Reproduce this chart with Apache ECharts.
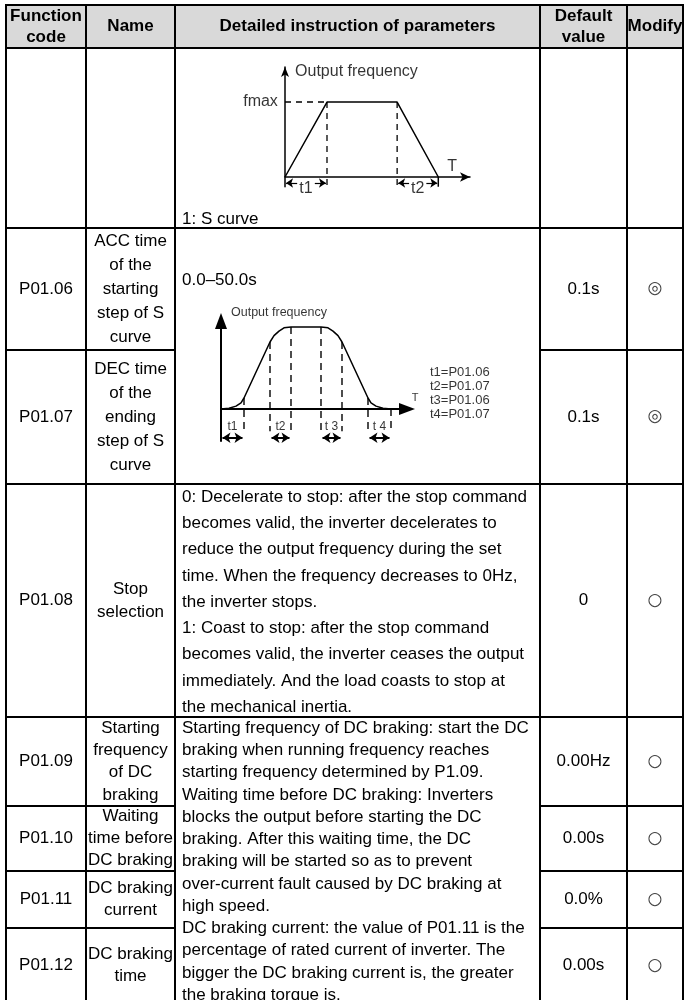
<!DOCTYPE html>
<html><head><meta charset="utf-8">
<script src="https://cdn.jsdelivr.net/npm/echarts@6/dist/echarts.min.js"></script>
<style>html,body{margin:0;padding:0;background:#fff}#c{width:684px;height:1000px}</style>
</head><body><div id="c"></div>
<script>
// ---------------- DATA ----------------
const headers = ['Function\ncode', 'Name', 'Detailed instruction of parameters', 'Default\nvalue', 'Modify'];
const codes = ['', 'P01.06', 'P01.07', 'P01.08', 'P01.09', 'P01.10', 'P01.11', 'P01.12'];
const names = ['', 'ACC time\nof the\nstarting\nstep of S\ncurve', 'DEC time\nof the\nending\nstep of S\ncurve',
  'Stop\nselection', 'Starting\nfrequency\nof DC\nbraking', 'Waiting\ntime before\nDC braking',
  'DC braking\ncurrent', 'DC braking\ntime'];
const defaults = ['', '0.1s', '0.1s', '0', '0.00Hz', '0.00s', '0.0%', '0.00s'];
const modifyMarks = ['', '◎', '◎', '○', '○', '○', '○', '○'];
const detailTexts = [
  '1: S curve',
  '0.0–50.0s',
  ['0: Decelerate to stop: after the stop command',
   'becomes valid, the inverter decelerates to',
   'reduce the output frequency during the set',
   'time. When the frequency decreases to 0Hz,',
   'the inverter stops.',
   '1: Coast to stop: after the stop command',
   'becomes valid, the inverter ceases the output',
   'immediately. And the load coasts to stop at',
   'the mechanical inertia.'].join('\n'),
  ['Starting frequency of DC braking: start the DC',
   'braking when running frequency reaches',
   'starting frequency determined by P1.09.',
   'Waiting time before DC braking: Inverters',
   'blocks the output before starting the DC',
   'braking. After this waiting time, the DC',
   'braking will be started so as to prevent',
   'over-current fault caused by DC braking at',
   'high speed.',
   'DC braking current: the value of P01.11 is the',
   'percentage of rated current of inverter. The',
   'bigger the DC braking current is, the greater',
   'the braking torque is.'].join('\n')
];
const detailRowSpans = [[0, 0], [1, 2], [3, 3], [4, 7]];

// Diagram 1: linear acceleration (time, frequency; fmax = 1)
const linTime = [0, 1, 2.67, 3.65];
const linFreq = [0, 1, 1, 0];
const linTitle = 'Output frequency';
const linMaxLabel = 'fmax';
const timeLabel = 'T';
const linMarks = ['t1', 't2'];

// Diagram 2: S curve (time, frequency; fmax = 1)
const sTime = [0, 0.8, 1.5, 2.0, 2.3, 4.9, 5.3, 5.8, 6.3, 7.0, 10.0, 10.7, 11.2, 11.7, 12.1, 14.7, 15.0, 15.5, 16.2, 17.0];
const sFreq = [0, 0.01, 0.035, 0.075, 0.134, 0.817, 0.895, 0.95, 0.99, 1, 1, 0.99, 0.95, 0.895, 0.817, 0.134, 0.075, 0.035, 0.01, 0];
const sGuideIdx = [4, 5, 9, 10, 14, 15, 19];
const sSpans = [[0, 4], [5, 9], [10, 14], [15, 19]];
const sMarks = ['t1', 't2', 't 3', 't 4'];
const sLegend = ['t1=P01.06', 't2=P01.07', 't3=P01.06', 't4=P01.07'];

// ---------------- LAYOUT / STYLE ----------------
const FONT = '"Liberation Sans", Arial, sans-serif';
const L = {
  colEdges: [6, 86, 175, 540, 627, 683],
  rowEdges: [5, 48, 228, 350, 484, 717, 806, 871, 928, 1003],
  headerFill: '#d9d9d9',
  border: 2,
  fontSize: 17,
  headLH: 21,
  nameLH: [24, 24, 24, 23, 22.25, 22.25, 22.25, 22.25],
  padX: 7,
  detail: [
    {anchor: 'bottom', off: 9, lh: 20},
    {anchor: 'mid', off: 52, lh: 20},
    {anchor: 'top', off: 0, lh: 26.25},
    {anchor: 'top', off: 0, lh: 22.25}
  ]
};
// grid boxes: axis-origin row at bottom; yMin extends the y axis below the time axis
const D1 = {left: 285, top: 67, width: 185, height: 119.75, xMax: 4.405, yMin: -0.13, yMax: 1.467,
  dimY: -0.08, markY: -0.15, titleX: 0.24, titleY: 1.4, tX: 3.98, tY: 0.135};
const D2 = {left: 221, top: 321, width: 186, height: 120, xMax: 18.6, yMin: -0.39, yMax: 1.073,
  guideBottom: -0.27, dimY: -0.35, markY: -0.22,
  titleX: 1.0, titleY: 1.17, tX: 19.4, tY: 0.14, legX: 20.9, legY: 0.195};

// ---------------- TABLE CELLS ----------------
const cells = [];
for (let c = 0; c < 5; c++) cells.push([c, c + 1, 0, 1, 0, c]);
for (let r = 0; r < 8; r++) {
  cells.push([0, 1, r + 1, r + 2, 1, r]);
  cells.push([1, 2, r + 1, r + 2, 2, r]);
  cells.push([3, 4, r + 1, r + 2, 4, r]);
  cells.push([4, 5, r + 1, r + 2, 5, r]);
}
detailRowSpans.forEach((s, i) => cells.push([2, 3, s[0] + 1, s[1] + 2, 3, i]));

function renderCell(params, api) {
  const c0 = api.value(0), c1 = api.value(1), r0 = api.value(2), r1 = api.value(3);
  const kind = api.value(4), idx = api.value(5);
  const a = api.coord([L.colEdges[c0], L.rowEdges[r0]]);
  const b = api.coord([L.colEdges[c1], L.rowEdges[r1]]);
  const x = a[0], y = a[1], w = b[0] - a[0], h = b[1] - a[1];
  const rect = {type: 'rect', shape: {x: x, y: y, width: w, height: h},
    style: {fill: kind === 0 ? L.headerFill : 'transparent', stroke: '#000', lineWidth: L.border}};
  let text = '', tx = x + w / 2, ty = y + h / 2, align = 'center', va = 'middle';
  let lh = kind === 0 ? L.headLH : L.nameLH[idx], weight = 'normal', size = L.fontSize, family = FONT, color = '#000';
  if (kind === 0) { text = headers[idx]; weight = 'bold'; }
  else if (kind === 1) { text = codes[idx]; }
  else if (kind === 2) { text = names[idx]; }
  else if (kind === 4) { text = defaults[idx]; }
  else if (kind === 5) { text = modifyMarks[idx]; family = '"DejaVu Sans", sans-serif'; size = 17; color = '#444'; }
  else if (kind === 3) {
    const d = L.detail[idx];
    text = detailTexts[idx]; align = 'left'; tx = x + L.padX; lh = d.lh;
    if (d.anchor === 'bottom') { ty = y + h - d.off; va = 'middle'; }
    else if (d.anchor === 'mid') { ty = y + d.off; va = 'middle'; }
    else { ty = y + d.off; va = 'top'; }
  }
  return {type: 'group', children: [rect,
    {type: 'text', style: {text: text, x: tx, y: ty, align: align, verticalAlign: va, lineHeight: lh,
      fontSize: size, fontWeight: weight, fontFamily: family, fill: color}}]};
}

// ---------------- HELPERS ----------------
function seg(axis, pts, width, dashed, z) {
  return {type: 'line', xAxisIndex: axis, yAxisIndex: axis, data: pts, symbol: 'none', clip: false,
    silent: true, animation: false, z: z || 5,
    lineStyle: {color: '#000', width: width, type: dashed ? dashed : 'solid'}};
}
function labels(axis, items) {
  return {type: 'scatter', xAxisIndex: axis, yAxisIndex: axis, symbolSize: 0.1, clip: false, silent: true,
    animation: false, z: 6, itemStyle: {color: 'transparent'},
    data: items.map(it => ({value: it.pos, label: {show: true, position: 'inside', formatter: it.text,
      align: it.align || 'center', verticalAlign: 'middle', fontSize: it.size, lineHeight: it.lh || it.size + 2,
      fontFamily: FONT, color: '#000'}}))};
}
function axisPair(idx, D, arrowX, arrowY, sym, lw) {
  const common = {gridIndex: idx, type: 'value', axisTick: {show: false}, axisLabel: {show: false}, splitLine: {show: false}};
  return [
    Object.assign({}, common, {min: 0, max: D.xMax, axisLine: {show: true, onZero: true,
      symbol: ['none', sym], symbolSize: arrowX, lineStyle: {color: '#000', width: lw}}}),
    Object.assign({}, common, {min: D.yMin, max: D.yMax, axisLine: {show: true, onZero: true,
      symbol: ['none', sym], symbolSize: arrowY, lineStyle: {color: '#000', width: lw}}})
  ];
}

// ---------------- SERIES ----------------
const series = [];
series.push({type: 'custom', coordinateSystem: 'cartesian2d', xAxisIndex: 0, yAxisIndex: 0,
  data: cells, renderItem: renderCell, silent: true, z: 1, animation: false});

// Diagram 1
const DASH1 = [6, 5];
const trap = seg(1, linTime.map((t, i) => [t, linFreq[i]]), 1.5);
const dim1 = [];
[[linTime[0], linTime[1]], [linTime[2], linTime[3]]].forEach(function (p) {
  const mid = (p[0] + p[1]) / 2, half = (p[1] - p[0]) / 2;
  dim1.push([{coord: [mid - half * 0.42, D1.dimY]}, {coord: [p[0] + half * 0.05, D1.dimY]}]);
  dim1.push([{coord: [mid + half * 0.42, D1.dimY]}, {coord: [p[1] - half * 0.05, D1.dimY]}]);
});
trap.markLine = {silent: true, symbol: ['none', 'arrow'], symbolSize: 7, label: {show: false}, animation: false,
  lineStyle: {color: '#000', width: 1.2, type: 'solid'}, emphasis: {disabled: true}, data: dim1};
series.push(trap);
series.push(seg(1, [[linTime[0], linFreq[1]], [linTime[1], linFreq[1]]], 1.3, DASH1));
series.push(seg(1, [[linTime[1], linFreq[1]], [linTime[1], D1.yMin]], 1.3, DASH1));
series.push(seg(1, [[linTime[2], linFreq[2]], [linTime[2], D1.yMin]], 1.3, DASH1));
series.push(seg(1, [[linTime[3], 0], [linTime[3], D1.yMin]], 1.5));
series.push(labels(1, [
  {text: linTitle, pos: [D1.titleX, D1.titleY], align: 'left', size: 16},
  {text: linMaxLabel, pos: [-0.17, linFreq[1]], align: 'right', size: 16},
  {text: timeLabel, pos: [D1.tX, D1.tY], size: 16},
  {text: linMarks[0], pos: [(linTime[0] + linTime[1]) / 2, D1.markY], size: 16},
  {text: linMarks[1], pos: [(linTime[2] + linTime[3]) / 2, D1.markY], size: 16}
]));

// Diagram 2
const DASH2 = [7, 5];
const sCurve = seg(2, sTime.map((t, i) => [t, sFreq[i]]), 1.5);
sCurve.markLine = {silent: true, symbol: ['arrow', 'arrow'], symbolSize: 8, label: {show: false}, animation: false,
  lineStyle: {color: '#000', width: 2, type: 'solid'}, emphasis: {disabled: true},
  data: sSpans.map(p => [{coord: [sTime[p[0]] + 0.15, D2.dimY]}, {coord: [sTime[p[1]] - 0.15, D2.dimY]}])};
series.push(sCurve);
sGuideIdx.forEach(i => series.push(seg(2, [[sTime[i], sFreq[i]], [sTime[i], D2.guideBottom]], 1.4, DASH2)));
series.push(labels(2, [
  {text: linTitle, pos: [D2.titleX, D2.titleY], align: 'left', size: 12.5},
  {text: timeLabel, pos: [D2.tX, D2.tY], size: 11},
  {text: sLegend.join('\n'), pos: [D2.legX, D2.legY], align: 'left', size: 13, lh: 14}
].concat(sSpans.map((p, i) => ({text: sMarks[i], pos: [(sTime[p[0]] + sTime[p[1]]) / 2, D2.markY], size: 12})))));

// ---------------- CHART ----------------
const ax1 = axisPair(1, D1, [7, 10], [6, 10], 'arrow', 1.5);
const ax2 = axisPair(2, D2, [12, 16], [12, 16], 'triangle', 2);
const chart = echarts.init(document.getElementById('c'));
chart.setOption({
  animation: false,
  backgroundColor: '#fff',
  grid: [
    {left: 0, top: 0, width: 684, height: 1000, outerBoundsMode: 'none'},
    {left: D1.left, top: D1.top, width: D1.width, height: D1.height, outerBoundsMode: 'none'},
    {left: D2.left, top: D2.top, width: D2.width, height: D2.height, outerBoundsMode: 'none'}
  ],
  xAxis: [{gridIndex: 0, type: 'value', min: 0, max: 684, show: false}, ax1[0], ax2[0]],
  yAxis: [{gridIndex: 0, type: 'value', min: 0, max: 1000, inverse: true, show: false}, ax1[1], ax2[1]],
  series: series
});
</script>
</body></html>
